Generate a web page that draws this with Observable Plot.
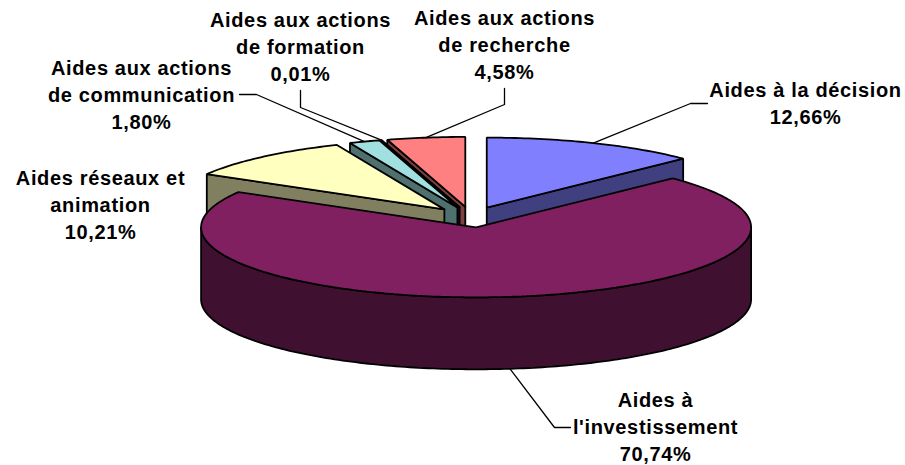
<!DOCTYPE html>
<html><head><meta charset="utf-8">
<style>html,body{margin:0;padding:0;background:#fff}svg{display:block}svg text{letter-spacing:.65px}</style>
<script src="https://cdn.jsdelivr.net/npm/d3@7"></script>
<script src="https://cdn.jsdelivr.net/npm/@observablehq/plot@0.6"></script>
</head><body><div id="chart"></div>
<script>
// Data, clockwise from the top of the pie
const categories = ["Aides à la décision","Aides à l'investissement","Aides réseaux et animation","Aides aux actions de communication","Aides aux actions de formation","Aides aux actions de recherche"];
const shares = [12.66,70.74,10.21,1.80,0.01,4.58];
const shareLabels = ["12,66%","70,74%","10,21%","1,80%","0,01%","4,58%"];
const labelLines = [["Aides à la décision"],["Aides à","l'investissement"],["Aides réseaux et","animation"],["Aides aux actions","de communication"],["Aides aux actions","de formation"],["Aides aux actions","de recherche"]];
const topColors = ["#8080ff","#802060","#ffffc0","#a0e0e0","#600080","#ff8080"];
const sideColors = ["#404080","#401030","#808060","#507070","#300040","#804040"];
// Layout: pie geometry and label placement
const pie = {cx:470.6, cy:216.6, rx:275, ry:70, depth:72, explode:0.147};
const labelX = [805,655,100,141,300,504];
const labelTop = [90,400,178,68,20,18];
const lineStep = 27;
const leaderElbows = [[[707,103],[690,103]],[[570,427],[554,427]],[],[[239,94],[256,94]],[[300,90],[300,107]],[[504,88],[504,104]]];
const drawOrder = [5,4,3,2,0,1];

const rad = d => d*Math.PI/180;
let acc = 0;
const slices = shares.map((v,i)=>{
  const a0 = acc/100*360; acc += v; const a1 = acc/100*360; const m=(a0+a1)/2;
  return {i,a0,a1,m,
    ax: pie.cx+pie.explode*pie.rx*Math.sin(rad(m)),
    ay: pie.cy-pie.explode*pie.ry*Math.cos(rad(m))};
});
const rim = (s,a,dz=0)=>({x:s.ax+pie.rx*Math.sin(rad(a)), y:s.ay-pie.ry*Math.cos(rad(a))+dz});
const arc = (s,a,b,dz=0)=>{const n=Math.max(1,Math.ceil(Math.abs(b-a)));return d3.range(n+1).map(k=>rim(s,a+(b-a)*k/n,dz));};
const shape = (pts,fill)=>Plot.line([...pts,pts[0]],{x:"x",y:"y",fill,stroke:"#000",strokeWidth:1.8,strokeLinejoin:"miter"});
const apex=(s,dz=0)=>({x:s.ax,y:s.ay+dz});

const marks=[];
for(const i of drawOrder){
  const s=slices[i], top=topColors[i], side=sideColors[i];
  // the radial wall that faces the viewer
  const wa = i===0 ? s.a1 : s.a0;
  if(i!==1) marks.push(shape([apex(s),rim(s,wa),rim(s,wa,pie.depth),apex(s,pie.depth)],side));
  // the outer wall, where it faces the viewer
  if(i===1){
    const lo=Math.max(s.a0,90), hi=Math.min(s.a1,270);
    marks.push(shape([...arc(s,lo,hi),...arc(s,hi,lo,pie.depth)],side));
  }
  marks.push(shape([apex(s),...arc(s,s.a0,s.a1)],top));
}
// leaders
slices.forEach((s,i)=>{
  if(!leaderElbows[i].length) return;
  const p=rim(s,s.m,i===1?pie.depth:0);
  marks.push(Plot.line([...leaderElbows[i].map(([x,y])=>({x,y})),p],{x:"x",y:"y",stroke:"#000",strokeWidth:1.3}));
});
// labels
const textRows = categories.flatMap((c,i)=>[...labelLines[i],shareLabels[i]].map((t,k)=>({t,x:labelX[i],y:labelTop[i]+k*lineStep})));
marks.push(Plot.text(textRows,{x:"x",y:"y",text:"t",fill:"#000",fontWeight:"bold",fontSize:20,fontFamily:"'Liberation Sans',Arial,sans-serif",textAnchor:"middle",lineAnchor:"middle"}));

const chart=Plot.plot({width:905,height:465,margin:0,
  x:{domain:[0,905],range:[0,905],axis:null},
  y:{domain:[0,465],range:[0,465],axis:null},
  style:{background:"#fff"},
  marks});
document.getElementById("chart").append(chart);
</script></body></html>
